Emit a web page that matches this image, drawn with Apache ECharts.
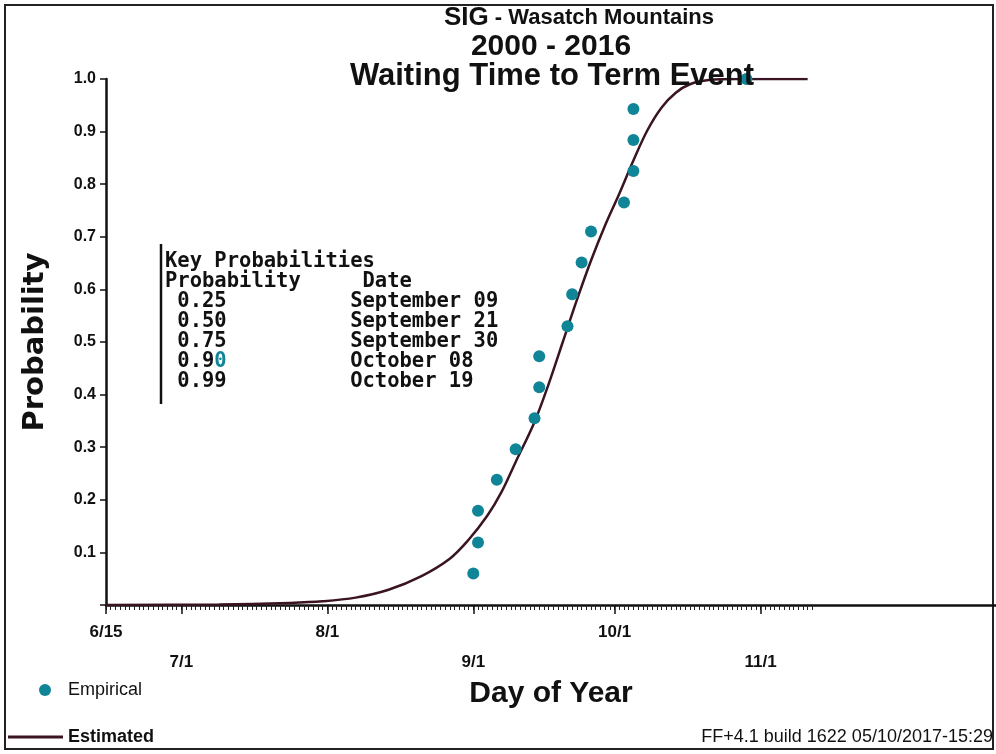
<!DOCTYPE html>
<html><head><meta charset="utf-8">
<script src="https://cdn.jsdelivr.net/npm/echarts@6/dist/echarts.min.js"></script>
<style>html,body{margin:0;padding:0;background:#fff}#c{width:996px;height:754px}</style>
</head><body><div id="c"></div>
<script>
// ---- data ----
const empiricalDays = [244,245,245,249,253,257,258,258,264,265,267,269,276,278,278,278,302];
const empiricalProb = [0.060,0.119,0.179,0.238,0.296,0.355,0.414,0.473,0.530,0.591,0.651,0.710,0.765,0.825,0.884,0.943,1.0];
const estimatedDays = [166,190,205,212,219,226,233,239,243,247,250,253,257,260,263,266,269,272,275,278,281,284,287,290,294,300,315];
const estimatedProb = [0,0.001,0.004,0.007,0.014,0.029,0.055,0.088,0.124,0.170,0.215,0.272,0.348,0.420,0.500,0.580,0.655,0.722,0.782,0.845,0.903,0.946,0.974,0.990,0.998,1.0,1.0];
const tickDays = [166,182,213,244,274,305];
const tickLabels = ['6/15','7/1','8/1','9/1','10/1','11/1'];
const keyProbs = ['0.25','0.50','0.75','0.90','0.99'];
const keyDates = ['September 09','September 21','September 30','October 08','October 19'];

const dailyTicks = [];
for (let d = 166; d <= 316; d++) dailyTicks.push(d);

const ink = '#111';
const teal = '#0f8597';
const curve = '#3a1422';
const sans = 'Liberation Sans, Arial, sans-serif';

// key probabilities block
let keyText = 'Key Probabilities\nProbability     Date';
keyProbs.forEach((p, i) => {
  let pp = p;
  if (i === 3) pp = p.slice(0, 3) + '{t|' + p.slice(3) + '}';
  keyText += '\n ' + pp + ' '.repeat(14 - p.length) + keyDates[i];
});

const chart = echarts.init(document.getElementById('c'), null, {renderer: 'canvas'});
chart.setOption({
  animation: false,
  backgroundColor: '#fff',
  title: [
    {text: '{a|SIG}{b| - Wasatch Mountains}', left: 579, top: 5, textAlign: 'center', padding: 0,
     textStyle: {rich: {a: {fontFamily: sans, fontSize: 26, fontWeight: 'bold', color: ink},
                        b: {fontFamily: sans, fontSize: 22, fontWeight: 'bold', color: ink}}}},
    {text: '2000 - 2016', left: 551, top: 32, textAlign: 'center', padding: 0,
     textStyle: {fontFamily: sans, fontSize: 30, fontWeight: 'bold', color: ink}},
    {text: 'Waiting Time to Term Event', left: 552, top: 61, textAlign: 'center', padding: 0,
     textStyle: {fontFamily: sans, fontSize: 31, fontWeight: 'bold', color: ink}},
    {text: keyText, left: 165, top: 252, textAlign: 'left', padding: 0,
     textStyle: {fontFamily: 'DejaVu Sans Mono', fontSize: 20.5, lineHeight: 20, fontWeight: 'bold', color: ink,
                 rich: {t: {fontFamily: 'DejaVu Sans Mono', fontSize: 20.5, lineHeight: 20, fontWeight: 'bold', color: teal}}}},
    {text: 'FF+4.1 build 1622 05/10/2017-15:29', left: 993, top: 728, textAlign: 'right', padding: 0,
     textStyle: {fontFamily: sans, fontSize: 18, fontWeight: 'normal', color: ink}}
  ],
  legend: [
    {data: [{name: 'Empirical', icon: 'circle'}], orient: 'vertical', left: 39, top: 681, padding: 0,
     itemWidth: 12, itemHeight: 12, textStyle: {fontFamily: sans, fontSize: 18, color: ink, padding: [0, 0, 0, 12]}},
    {data: [{name: 'Estimated', icon: 'rect'}], orient: 'vertical', left: 8, top: 728, padding: 0,
     itemWidth: 55, itemHeight: 3, textStyle: {fontFamily: sans, fontSize: 18, fontWeight: 'bold', color: ink}}
  ],
  grid: {left: 106, right: 0, top: 79, bottom: 149, containLabel: false, outerBoundsMode: 'none'},
  xAxis: [
    {type: 'value', min: 166, max: 355, gridIndex: 0, position: 'bottom',
     name: 'Day of Year', nameLocation: 'middle', nameGap: 74, nameMoveOverlap: false,
     nameTextStyle: {fontFamily: sans, fontSize: 30, fontWeight: 'bold', color: ink},
     axisLine: {show: true, onZero: false, lineStyle: {color: ink, width: 2.5}},
     axisTick: {show: true, customValues: dailyTicks, length: 5, lineStyle: {color: '#222', width: 1}},
     axisLabel: {show: true, customValues: tickDays, margin: 12, lineHeight: 30,
                 fontFamily: sans, fontSize: 17, fontWeight: 'bold', color: ink,
                 formatter: function (v) {
                   const i = tickDays.indexOf(Math.round(v));
                   if (i < 0) return '';
                   return (i % 2 === 1 ? '\n' : '') + tickLabels[i];
                 }},
     splitLine: {show: false}},
    {type: 'value', min: 166, max: 355, gridIndex: 0, position: 'bottom',
     axisLine: {show: false}, axisLabel: {show: false}, splitLine: {show: false},
     axisTick: {show: true, customValues: tickDays, length: 9, lineStyle: {color: ink, width: 1.5}}}
  ],
  yAxis: {
    type: 'value', min: 0, max: 1, interval: 0.1,
    name: 'Probability', nameLocation: 'middle', nameGap: 56, nameRotate: 90, nameMoveOverlap: false,
    nameTextStyle: {fontFamily: 'DejaVu Sans', fontSize: 29, fontWeight: 'bold', color: ink},
    axisLine: {show: true, onZero: false, lineStyle: {color: ink, width: 2.5}},
    axisTick: {show: true, length: 6, lineStyle: {color: ink, width: 1.5}},
    axisLabel: {show: true, margin: 10, fontFamily: sans, fontSize: 16, fontWeight: 'bold', color: ink,
                formatter: v => (v === 0 ? '' : v.toFixed(1))},
    splitLine: {show: false}
  },
  series: [
    {name: 'Estimated', type: 'line', xAxisIndex: 0, smooth: 0.35,
     showSymbol: false, symbol: 'none', z: 2,
     lineStyle: {color: curve, width: 2.5}, itemStyle: {color: curve},
     data: estimatedDays.map((d, i) => [d, estimatedProb[i]])},
    {name: 'Empirical', type: 'scatter', xAxisIndex: 0, symbol: 'circle', symbolSize: 12, z: 3,
     itemStyle: {color: teal, opacity: 1},
     data: empiricalDays.map((d, i) => [d, empiricalProb[i]])}
  ],
  graphic: [
    {type: 'rect', shape: {x: 5, y: 5, width: 988, height: 744}, style: {fill: 'none', stroke: '#222', lineWidth: 2}, silent: true},
    {type: 'line', shape: {x1: 161, y1: 244, x2: 161, y2: 404}, style: {stroke: ink, lineWidth: 2.5}, silent: true}
  ]
});
</script>
</body></html>
